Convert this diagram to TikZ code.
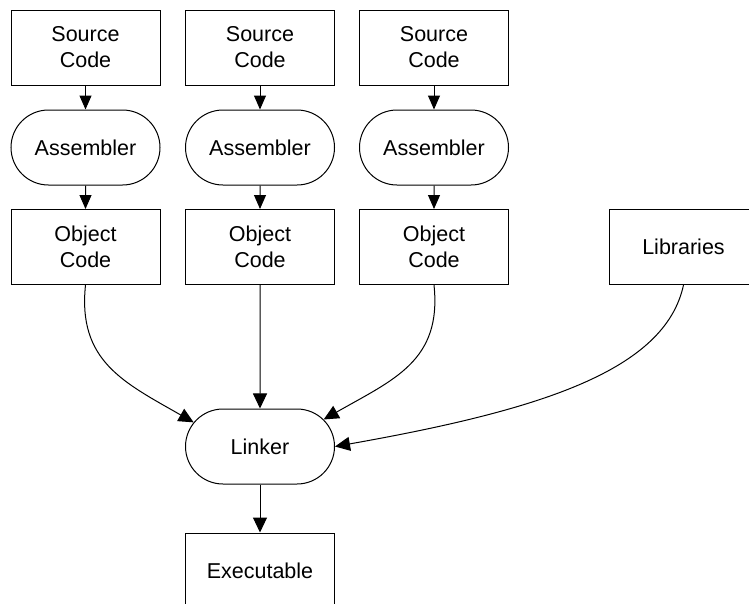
\documentclass[tikz,border=0pt]{standalone}
\usepackage{fontspec}
\setmainfont{Liberation Sans}
\usetikzlibrary{arrows.meta,shapes.misc}

\tikzset{
  stage/.style={draw=black, line width=1pt, minimum width=149pt, minimum height=75pt,
    inner sep=0pt, align=center, font=\fontsize{21.5pt}{26pt}\selectfont},
  filebox/.style={stage, rectangle},
  toolbox/.style={stage, rounded rectangle},
  arr/.style={line width=1pt, -{Triangle[length=15pt,width=14pt]}},
  shortarr/.style={line width=1pt, -{Triangle[length=14pt,width=12pt]}}
}

\begin{document}
\begin{tikzpicture}[x=1pt, y=-1pt]
  \clip (0,0) rectangle (749,603);

  % three assembly pipelines
  \node[filebox] (s1) at (85.5,47.5) {Source\\Code};
  \node[filebox] (s2) at (260,47.5)  {Source\\Code};
  \node[filebox] (s3) at (434,47.5)  {Source\\Code};

  \node[toolbox] (a1) at (85.5,147.5) {Assembler};
  \node[toolbox] (a2) at (260,147.5)  {Assembler};
  \node[toolbox] (a3) at (434,147.5)  {Assembler};

  \node[filebox] (o1) at (85.5,247) {Object\\Code};
  \node[filebox] (o2) at (260,247)  {Object\\Code};
  \node[filebox] (o3) at (434,247)  {Object\\Code};

  \node[filebox] (lib) at (683.5,247) {Libraries};

  % linking stage
  \node[toolbox] (lk) at (260,446.5) {Linker};
  \node[filebox] (ex) at (260,570.5) {Executable};

  % edges
  \draw[shortarr] (s1) -- (a1);
  \draw[shortarr] (s2) -- (a2);
  \draw[shortarr] (s3) -- (a3);
  \draw[shortarr] (a1) -- (o1);
  \draw[shortarr] (a2) -- (o2);
  \draw[shortarr] (a3) -- (o3);

  \draw[arr] (o1.south) .. controls +(-8,76) and +(-70,-40) .. (lk.160);
  \draw[arr] (o2) -- (lk);
  \draw[arr] (o3.south) .. controls +(8,76) and +(70,-40) .. (lk.23);
  \draw[arr] (lib.south) .. controls +(-18.5,85.5) and +(206,-36.5) .. (lk.east);

  \draw[arr] (lk) -- (ex);
\end{tikzpicture}
\end{document}
